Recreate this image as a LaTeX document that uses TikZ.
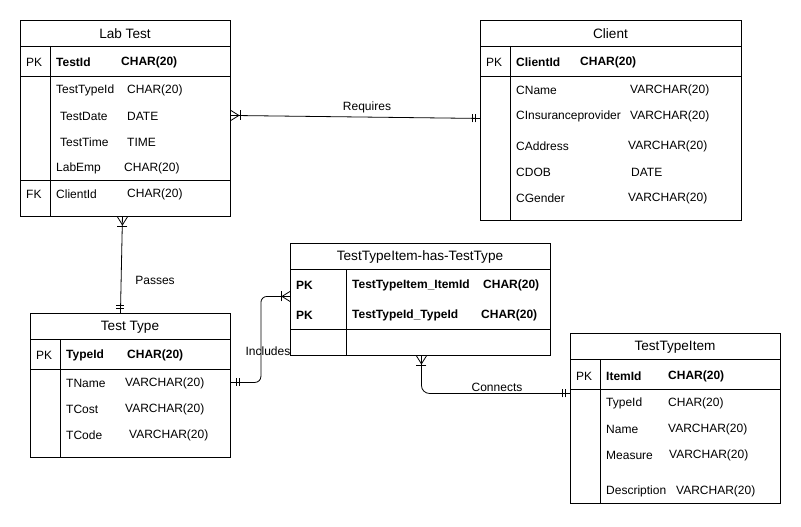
\documentclass[tikz,border=0pt]{standalone}
\usepackage{fontspec}
\setmainfont{Liberation Sans}
\usetikzlibrary{calc}
\tikzset{
 ent/.style={draw, line width=0.9pt, inner sep=0pt, anchor=north west},
 ttl/.style={anchor=center, inner sep=0pt, yshift=-1pt, font=\fontsize{13.6}{15}\selectfont},
 fld/.style={anchor=west, inner sep=0pt, yshift=-1pt, font=\fontsize{12}{14}\selectfont},
 key/.style={anchor=west, inner sep=0pt, yshift=-1pt, font=\fontsize{12}{14}\selectfont\bfseries},
 sepline/.style={line width=0.9pt},
 rel/.style={line width=0.8pt},
 lbl/.style={inner sep=1pt, font=\fontsize{12}{14}\selectfont},
 crow/.pic={\draw[rel] (0,5)--(8,0)--(0,-5); \draw[rel] (9,5)--(9,-5);},
 dbar/.pic={\draw[rel] (5,4)--(5,-4); \draw[rel] (8,4)--(8,-4);},
}
\begin{document}
\begin{tikzpicture}[x=1pt,y=1pt]
\useasboundingbox[fill=white] (0,0) rectangle (801,-527);

% ---------- Lab Test ----------
\node[ent, minimum width=210pt, minimum height=196pt] (lt) at (20,-20) {};
\node[ttl] (lt-t) at (125,-33) {Lab Test};
\draw[sepline] (20,-46) -- (230,-46);
\draw[sepline] (20,-76) -- (230,-76);
\draw[sepline] (20,-180) -- (230,-180);
\draw[sepline] (50,-46) -- (50,-216);
\node[fld] (lt-pk) at (26,-61) {PK};
\node[key] (lt-a1) at (56,-61) {TestId};
\node[key] (lt-b1) at (121,-61) {CHAR(20)};
\node[fld] (lt-a2) at (56,-89) {TestTypeId};
\node[fld] (lt-b2) at (127,-89) {CHAR(20)};
\node[fld] (lt-a3) at (60,-115) {TestDate};
\node[fld] (lt-b3) at (127,-115) {DATE};
\node[fld] (lt-a4) at (60,-141) {TestTime};
\node[fld] (lt-b4) at (127,-141) {TIME};
\node[fld] (lt-a5) at (56,-167) {LabEmp};
\node[fld] (lt-b5) at (124,-167) {CHAR(20)};
\node[fld] (lt-fk) at (26,-193) {FK};
\node[fld] (lt-a6) at (56,-193) {ClientId};
\node[fld] (lt-b6) at (127,-193) {CHAR(20)};

% ---------- Client ----------
\node[ent, minimum width=261pt, minimum height=200pt] (cl) at (480,-20) {};
\node[ttl] (cl-t) at (610.5,-33) {Client};
\draw[sepline] (480,-46) -- (741,-46);
\draw[sepline] (480,-76) -- (741,-76);
\draw[sepline] (510,-46) -- (510,-220);
\node[fld] (cl-pk) at (486,-61) {PK};
\node[key] (cl-a1) at (516,-61) {ClientId};
\node[key] (cl-b1) at (580,-61) {CHAR(20)};
\node[fld] (cl-a2) at (516,-89) {CName};
\node[fld] (cl-b2) at (630,-89) {VARCHAR(20)};
\node[fld] (cl-a3) at (516,-115) {CInsuranceprovider};
\node[fld] (cl-b3) at (630,-115) {VARCHAR(20)};
\node[fld] (cl-a4) at (516,-145) {CAddress};
\node[fld] (cl-b4) at (628,-145) {VARCHAR(20)};
\node[fld] (cl-a5) at (516,-171) {CDOB};
\node[fld] (cl-b5) at (631,-171) {DATE};
\node[fld] (cl-a6) at (516,-197) {CGender};
\node[fld] (cl-b6) at (628,-197) {VARCHAR(20)};

% ---------- Test Type ----------
\node[ent, minimum width=200pt, minimum height=144pt] (tt) at (30,-313) {};
\node[ttl] (tt-t) at (130,-326) {Test Type};
\draw[sepline] (30,-339) -- (230,-339);
\draw[sepline] (30,-369) -- (230,-369);
\draw[sepline] (60,-339) -- (60,-457);
\node[fld] (tt-pk) at (36,-354) {PK};
\node[key] (tt-a1) at (66,-354) {TypeId};
\node[key] (tt-b1) at (127,-354) {CHAR(20)};
\node[fld] (tt-a2) at (66,-382) {TName};
\node[fld] (tt-b2) at (125,-382) {VARCHAR(20)};
\node[fld] (tt-a3) at (66,-408) {TCost};
\node[fld] (tt-b3) at (125,-408) {VARCHAR(20)};
\node[fld] (tt-a4) at (66,-434) {TCode};
\node[fld] (tt-b4) at (129,-434) {VARCHAR(20)};

% ---------- TestTypeItem-has-TestType ----------
\node[ent, minimum width=260pt, minimum height=112pt] (jn) at (290,-243) {};
\node[ttl] (jn-t) at (420,-256) {TestTypeItem-has-TestType};
\draw[sepline] (290,-269) -- (550,-269);
\draw[sepline] (290,-329) -- (550,-329);
\draw[sepline] (346,-269) -- (346,-355);
\node[key] (jn-pk1) at (296,-284) {PK};
\node[key] (jn-a1) at (352,-284) {TestTypeItem\_ItemId};
\node[key] (jn-b1) at (483,-284) {CHAR(20)};
\node[key] (jn-pk2) at (296,-314) {PK};
\node[key] (jn-a2) at (352,-314) {TestTypeId\_TypeId};
\node[key] (jn-b2) at (481,-314) {CHAR(20)};

% ---------- TestTypeItem ----------
\node[ent, minimum width=210pt, minimum height=170pt] (ti) at (570,-333) {};
\node[ttl] (ti-t) at (675,-346) {TestTypeItem};
\draw[sepline] (570,-359) -- (780,-359);
\draw[sepline] (570,-389) -- (780,-389);
\draw[sepline] (600,-359) -- (600,-503);
\node[fld] (ti-pk) at (576,-375) {PK};
\node[key] (ti-a1) at (606,-375) {ItemId};
\node[key] (ti-b1) at (668,-375) {CHAR(20)};
\node[fld] (ti-a2) at (606,-402) {TypeId};
\node[fld] (ti-b2) at (668,-402) {CHAR(20)};
\node[fld] (ti-a3) at (606,-428) {Name};
\node[fld] (ti-b3) at (668,-428) {VARCHAR(20)};
\node[fld] (ti-a4) at (606,-454) {Measure};
\node[fld] (ti-b4) at (669,-454) {VARCHAR(20)};
\node[fld] (ti-a5) at (606,-490) {Description};
\node[fld] (ti-b5) at (676,-490) {VARCHAR(20)};

% ---------- Connectors ----------
% Requires
\coordinate (rq1) at ([yshift=3pt]lt.east);
\coordinate (rq2) at ([yshift=2pt]cl.west);
\draw[rel] (rq1) -- (rq2);
\pic at (rq1) {crow};
\pic[rotate=180] at (rq2) {dbar};
\node[lbl] (l-req) at (367,-107) {Requires};

% Passes
\coordinate (ps1) at ([xshift=-3pt]lt.south);
\coordinate (ps2) at ([xshift=-10pt]tt.north);
\draw[rel] (ps1) -- (ps2);
\pic[rotate=-90] at (ps1) {crow};
\pic[rotate=90] at (ps2) {dbar};
\node[lbl] (l-pas) at (155,-280) {Passes};

% Includes
\coordinate (in1) at ([yshift=3pt]tt.east);
\coordinate (in2) at ([yshift=3pt]jn.west);
\draw[rel, rounded corners=6pt] (in1) -- ++(30,0) |- (in2);
\pic at (in1) {dbar};
\pic[rotate=180] at (in2) {crow};
\node[lbl] (l-inc) at (268,-351) {Includes};

% Connects
\coordinate (cn1) at ([xshift=1pt]jn.south);
\coordinate (cn2) at ([yshift=25pt]ti.west);
\draw[rel, rounded corners=8pt] (cn1) |- (cn2);
\pic[rotate=-90] at (cn1) {crow};
\pic[rotate=180] at (cn2) {dbar};
\node[lbl] (l-con) at (497,-387) {Connects};

\end{tikzpicture}
\end{document}
